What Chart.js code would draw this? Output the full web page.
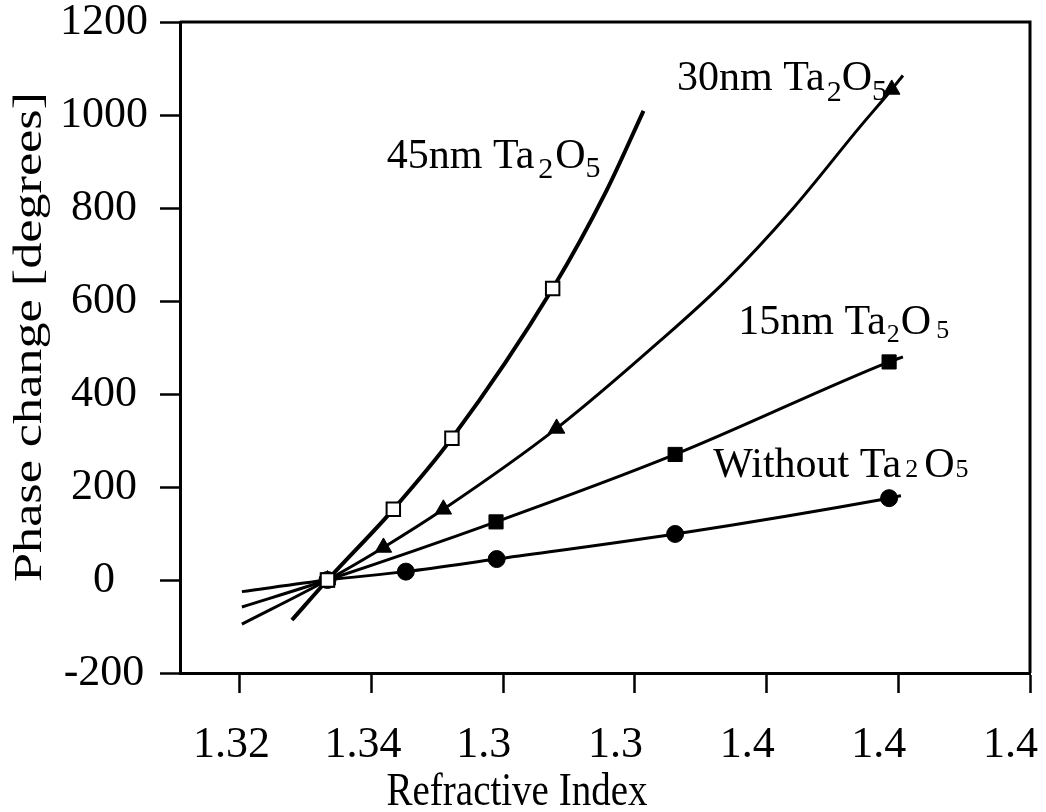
<!DOCTYPE html>
<html>
<head>
<meta charset="utf-8">
<title>Phase change vs refractive index</title>
<script src="https://cdn.jsdelivr.net/npm/chart.js@4.4.0/dist/chart.umd.min.js"></script>
<style>
    html, body { margin: 0; padding: 0; background: #fff; }
    #wrap { width: 1046px; height: 812px; }
</style>
</head>
<body>
<div id="wrap"><canvas id="chart" width="1046" height="812"></canvas></div>
<script>
// Axis ticks (labels copied as printed on the original)
const xTicks = [1.32, 1.34, 1.36, 1.38, 1.40, 1.42, 1.44];
const xTickLabels = ['1.32', '1.34', '1.3', '1.3', '1.4', '1.4', '1.4'];
const yTicks = [-200, 0, 200, 400, 600, 800, 1000, 1200];
const yTickLabels = ['-200', '0', '200', '400', '600', '800', '1000', '1200'];

// Measured points
const withoutX = [1.3333, 1.3452, 1.3590, 1.3861, 1.4186];
const withoutY = [0, 18, 45, 99, 176];
const nm15X = [1.3333, 1.3589, 1.3861, 1.4186];
const nm15Y = [0, 125, 270, 469];
const nm30X = [1.3333, 1.3418, 1.3509, 1.3681, 1.4190];
const nm30Y = [0, 70, 152, 326, 1055];
const nm45X = [1.3333, 1.3433, 1.3522, 1.3675];
const nm45Y = [0, 152, 305, 627];

// Fitted curves
const withoutFitX = [1.3203, 1.3333, 1.3452, 1.3590, 1.3861, 1.4186, 1.4204];
const withoutFitY = [-25, 0, 18, 45, 99, 176, 181];
const nm15FitX = [1.3203, 1.3333, 1.3589, 1.3861, 1.4186, 1.4207];
const nm15FitY = [-58, 0, 125, 270, 469, 480];
const nm30FitX = [1.3203, 1.3333, 1.3418, 1.3509, 1.3681, 1.3838, 1.3939, 1.4040, 1.4142, 1.4190, 1.4207];
const nm30FitY = [-95, 0, 70, 152, 326, 514, 645, 799, 975, 1055, 1085];
const nm45FitX = [1.3279, 1.3333, 1.3433, 1.3522, 1.3675, 1.3757, 1.3813];
const nm45FitY = [-86, 0, 152, 305, 627, 838, 1009];

// Curve labels: text pieces and anchor (left, baseline) in data units
const labelParts = [
    ['45nm Ta', '2', 'O', '5'],
    ['30nm Ta', '2', 'O', '5'],
    ['15nm Ta', '2', 'O', '5'],
    ['Without Ta', '2', 'O', '5']
];
const labelX = [1.3423, 1.3864, 1.3957, 1.3919];
const labelY = [886, 1054, 529, 221];

const FONT = '"Liberation Serif", "Times New Roman", serif';

// size / baseline shift / gap before each piece, per label
const labelStyle = [
    [{ s: 42, dy: 0, g: 0 }, { s: 30, dy: 10, g: 4 }, { s: 42, dy: 0, g: 2 }, { s: 30, dy: 9, g: 0 }],
    [{ s: 42, dy: 0, g: 0 }, { s: 30, dy: 11, g: 2 }, { s: 42, dy: 0, g: 0 }, { s: 30, dy: 10, g: 0 }],
    [{ s: 42, dy: 0, g: 0 }, { s: 26, dy: 8, g: 1 }, { s: 42, dy: 0, g: 1 }, { s: 26, dy: 4, g: 5 }],
    [{ s: 42, dy: 0, g: 0 }, { s: 26, dy: 0, g: 4 }, { s: 42, dy: 0, g: 6 }, { s: 26, dy: 0, g: 1 }]
];

function pts(xs, ys) {
    return xs.map((x, i) => ({ x: x, y: ys[i] }));
}

function fitLine(xs, ys, width) {
    return {
        data: pts(xs, ys),
        showLine: true,
        borderColor: '#000',
        borderWidth: width,
        pointRadius: 0,
        cubicInterpolationMode: 'monotone',
        order: 2
    };
}

const decor = {
    id: 'decor',
    afterDatasetsDraw(chart) {
        const { ctx, chartArea: a, scales } = chart;
        ctx.save();

        // top and right frame
        ctx.strokeStyle = '#000';
        ctx.lineWidth = 3;
        ctx.beginPath();
        ctx.moveTo(a.left, a.top);
        ctx.lineTo(a.right, a.top);
        ctx.lineTo(a.right, a.bottom);
        ctx.stroke();

        ctx.fillStyle = '#000';
        ctx.textBaseline = 'alphabetic';
        ctx.textAlign = 'left';

        // curve labels with subscripts
        labelParts.forEach((parts, li) => {
            let x = scales.x.getPixelForValue(labelX[li]);
            const y = scales.y.getPixelForValue(labelY[li]);
            parts.forEach((t, pi) => {
                const st = labelStyle[li][pi];
                ctx.font = st.s + 'px ' + FONT;
                x += st.g;
                ctx.fillText(t, x, y + st.dy);
                x += ctx.measureText(t).width;
            });
        });

        // x axis title (a little taller than the plain font, as in the scan)
        ctx.save();
        ctx.font = '39px ' + FONT;
        ctx.textAlign = 'center';
        ctx.translate(517, 805);
        ctx.scale(1, 1.2);
        ctx.fillText('Refractive Index', 0, 0);
        ctx.restore();

        // y axis title, stretched along its length like the original
        const yTitle = 'Phase change [degrees]';
        ctx.font = '40px ' + FONT;
        const w = ctx.measureText(yTitle).width;
        ctx.translate(30, 337);
        ctx.rotate(-Math.PI / 2);
        ctx.scale(490 / w, 1);
        ctx.textAlign = 'center';
        ctx.textBaseline = 'middle';
        ctx.fillText(yTitle, 0, 0);

        ctx.restore();
    }
};

new Chart(document.getElementById('chart'), {
    type: 'scatter',
    data: {
        datasets: [
            {
                data: pts(nm45X, nm45Y),
                pointStyle: 'rect',
                pointRadius: 9.5,
                backgroundColor: '#fff',
                borderColor: '#000',
                borderWidth: 2,
                order: 0
            },
            {
                data: pts(nm30X, nm30Y),
                pointStyle: 'triangle',
                pointRadius: 9.5,
                backgroundColor: '#000',
                borderColor: '#000',
                borderWidth: 1,
                order: 1
            },
            {
                data: pts(nm15X, nm15Y),
                pointStyle: 'rect',
                pointRadius: 10,
                backgroundColor: '#000',
                borderColor: '#000',
                borderWidth: 1,
                order: 1
            },
            {
                data: pts(withoutX, withoutY),
                pointStyle: 'circle',
                pointRadius: 8.5,
                backgroundColor: '#000',
                borderColor: '#000',
                borderWidth: 1,
                order: 1
            },
            fitLine(nm45FitX, nm45FitY, 4),
            fitLine(nm30FitX, nm30FitY, 3),
            fitLine(nm15FitX, nm15FitY, 3),
            fitLine(withoutFitX, withoutFitY, 3)
        ]
    },
    options: {
        responsive: false,
        animation: false,
        events: [],
        layout: {
            padding: { top: 22, right: 16, bottom: 0, left: 0 }
        },
        plugins: {
            legend: { display: false },
            tooltip: { enabled: false }
        },
        scales: {
            x: {
                type: 'linear',
                min: 1.3109,
                max: 1.44,
                afterBuildTicks: (s) => { s.ticks = xTicks.map(v => ({ value: v })); },
                afterFit: (s) => { s.height = 139; s.paddingLeft = 0; s.paddingRight = 0; },
                ticks: {
                    callback: (v, i) => xTickLabels[i],
                    font: { family: FONT, size: 44 },
                    color: '#000',
                    align: 'start',
                    labelOffset: -47,
                    padding: 26,
                    maxRotation: 0,
                    autoSkip: false
                },
                grid: {
                    drawOnChartArea: false,
                    drawTicks: true,
                    tickLength: 20,
                    tickWidth: 2.5,
                    tickColor: '#000'
                },
                border: { display: true, color: '#000', width: 3 }
            },
            y: {
                type: 'linear',
                min: -200,
                max: 1200,
                afterBuildTicks: (s) => { s.ticks = yTicks.map(v => ({ value: v })); },
                afterFit: (s) => { s.width = 180; s.paddingTop = 0; s.paddingBottom = 0; },
                ticks: {
                    callback: (v, i) => yTickLabels[i],
                    font: { family: FONT, size: 44 },
                    color: '#000',
                    crossAlign: 'center',
                    padding: 12,
                    autoSkip: false
                },
                grid: {
                    drawOnChartArea: false,
                    drawTicks: true,
                    tickLength: 20,
                    tickWidth: 2.5,
                    tickColor: '#000'
                },
                border: { display: true, color: '#000', width: 3 }
            }
        }
    },
    plugins: [decor]
});
</script>
</body>
</html>
